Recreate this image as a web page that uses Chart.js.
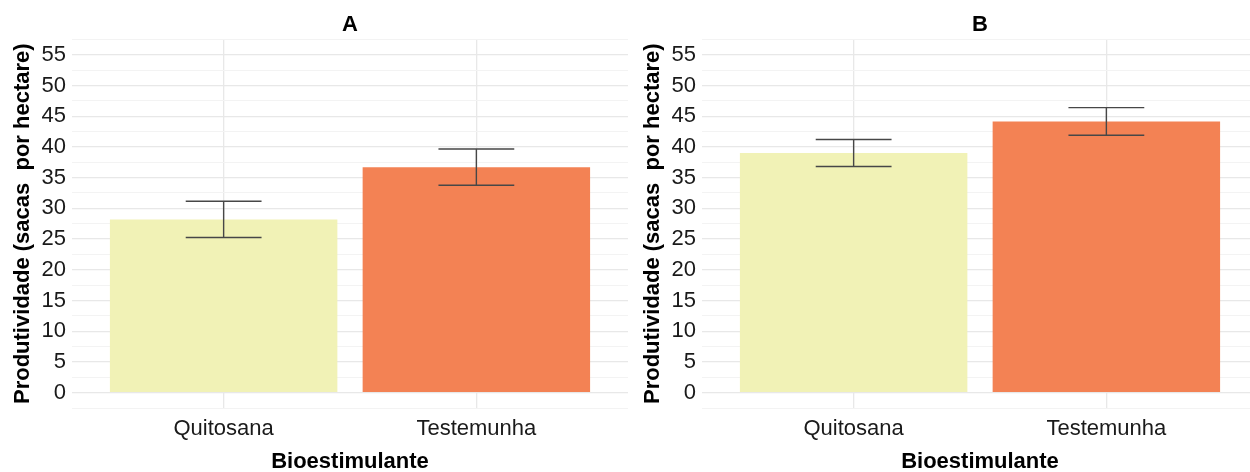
<!DOCTYPE html>
<html>
<head>
<meta charset="utf-8">
<script src="https://cdn.jsdelivr.net/npm/chart.js@4/dist/chart.umd.min.js"></script>
<style>
  html, body { margin: 0; padding: 0; background: #fff; overflow: hidden; }
  #wrap { position: relative; width: 1250px; height: 472px; overflow: hidden; }
  .panel { position: absolute; top: 0; width: 630px; height: 472px; }
</style>
</head>
<body>
<div id="wrap">
  <div class="panel" style="left:0"><canvas id="chartA" width="630" height="472"></canvas></div>
  <div class="panel" style="left:630px"><canvas id="chartB" width="630" height="472"></canvas></div>
</div>
<script>
// categorias e posições no eixo x
const categories = ['Quitosana', 'Testemunha'];
const positions = [1, 2];

// médias e erro padrão (sacas por hectare)
const meanA = [28.2, 36.7];
const errA = [2.95, 2.95];
const meanB = [39.0, 44.15];
const errB = [2.2, 2.25];

// rótulos do eixo y; linhas secundárias ficam no meio de cada intervalo
const yTicks = [0, 5, 10, 15, 20, 25, 30, 35, 40, 45, 50, 55];
const barColors = ['#F1F2B6', '#F38254'];

const FONT = "'Liberation Sans', Arial, sans-serif";

// barras de erro desenhadas sobre as barras
const errorBars = {
  id: 'errorBars',
  afterDatasetsDraw(chart, args, opts) {
    const { ctx, scales: { x, y } } = chart;
    const means = opts.means, errs = opts.errs;
    ctx.save();
    ctx.strokeStyle = '#474747';
    ctx.lineWidth = 1.4;
    means.forEach((m, i) => {
      const px = x.getPixelForValue(positions[i]);
      const half = x.getPixelForValue(positions[i] + 0.15) - px;
      const top = y.getPixelForValue(m + errs[i]);
      const bot = y.getPixelForValue(m - errs[i]);
      ctx.beginPath();
      ctx.moveTo(px - half, top); ctx.lineTo(px + half, top);
      ctx.moveTo(px, top); ctx.lineTo(px, bot);
      ctx.moveTo(px - half, bot); ctx.lineTo(px + half, bot);
      ctx.stroke();
    });
    ctx.restore();
  }
};

function yGridTicks() {
  const out = [];
  yTicks.forEach(v => { out.push({ value: v - 2.5 }); out.push({ value: v }); });
  out.push({ value: yTicks[yTicks.length - 1] + 2.5 });
  return out;
}

function makeChart(id, title, means, errs) {
  return new Chart(document.getElementById(id), {
    type: 'bar',
    data: {
      datasets: [{
        data: means.map((v, i) => ({ x: positions[i], y: v })),
        backgroundColor: barColors,
        borderWidth: 0,
        categoryPercentage: 1,
        barPercentage: 0.9
      }]
    },
    options: {
      responsive: false,
      animation: false,
      layout: { padding: { left: 0, right: 2, top: 0, bottom: 0 } },
      plugins: {
        legend: { display: false },
        tooltip: { enabled: false },
        title: {
          display: true, text: title, color: '#000', fullSize: false,
          font: { family: FONT, size: 22, weight: 'bold' },
          padding: { top: 12, bottom: 1 }
        },
        errorBars: { means: means, errs: errs }
      },
      scales: {
        x: {
          type: 'linear', min: 0.4, max: 2.6, offset: false,
          afterBuildTicks: s => { s.ticks = positions.map(v => ({ value: v })); },
          afterFit: s => { s.height = 64; },
          border: { display: false },
          grid: { offset: false, color: '#e8e8e8', lineWidth: 1.3, drawTicks: false },
          ticks: {
            color: '#1a1a1a', padding: 8,
            font: { family: FONT, size: 22 },
            callback: v => categories[positions.indexOf(v)] ?? ''
          },
          title: {
            display: true, text: 'Bioestimulante', color: '#000',
            font: { family: FONT, size: 22, weight: 'bold' },
            padding: { top: 0, bottom: -3 }
          }
        },
        y: {
          min: -2.5, max: 57.5,
          afterBuildTicks: s => { s.ticks = yGridTicks(); },
          afterFit: s => { s.width = 72; },
          border: { display: false },
          grid: {
            drawTicks: false,
            color: c => yTicks.includes(c.tick.value) ? '#e8e8e8' : '#f3f3f3',
            lineWidth: c => yTicks.includes(c.tick.value) ? 1.3 : 1
          },
          ticks: {
            autoSkip: false, color: '#1a1a1a', padding: 6,
            font: { family: FONT, size: 22 },
            callback: v => yTicks.includes(v) ? String(v) : ''
          },
          title: {
            display: true, text: 'Produtividade (sacas  por hectare)', color: '#000',
            font: { family: FONT, size: 22, weight: 'bold' },
            padding: { top: 10, bottom: 0 }
          }
        }
      }
    },
    plugins: [errorBars]
  });
}

makeChart('chartA', 'A', meanA, errA);
makeChart('chartB', 'B', meanB, errB);
</script>
</body>
</html>
